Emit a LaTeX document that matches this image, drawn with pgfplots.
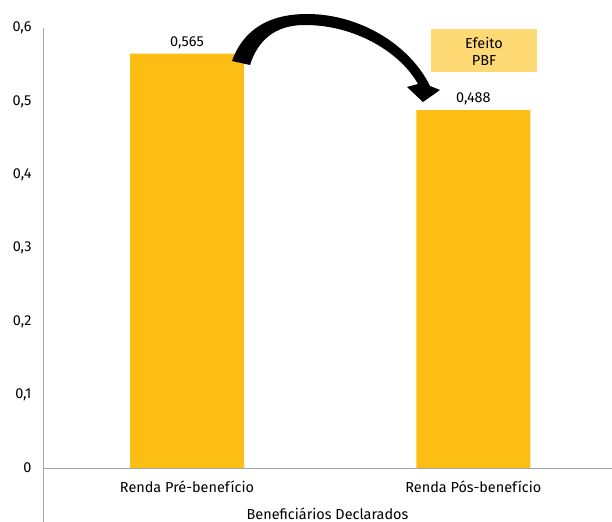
\documentclass[border=0pt]{standalone}
\usepackage{fontspec}
\setmainfont{Fira Sans}
\usepackage{pgfplots}
\pgfplotsset{compat=1.18}
\definecolor{barc}{RGB}{252,190,20}
\definecolor{boxc}{RGB}{255,217,115}
\definecolor{axc}{RGB}{165,165,165}
\begin{document}
\begin{tikzpicture}
\path[use as bounding box] (0,0) rectangle (612bp,522bp);
\begin{axis}[
  at={(43bp,54bp)}, anchor=south west,
  scale only axis, width=569bp, height=440bp,
  ymin=0, ymax=0.6, xmin=-0.503, xmax=1.484,
  ytick={0,0.1,0.2,0.3,0.4,0.5,0.6},
  xtick={0,1}, xticklabels={Renda Pré-benefício, Renda Pós-benefício},
  axis x line*=bottom, axis y line*=left,
  axis line style={axc, line width=0.8pt, -},
  major tick length=0,
  tick label style={font=\fontsize{14.5}{17}\selectfont, text=black},
  yticklabel style={xshift=-8bp},
  xticklabel style={yshift=-9bp},
  xlabel={Beneficiários Declarados},
  xlabel style={font=\fontsize{14.5}{17}\selectfont, yshift=-9bp},
  /pgf/number format/.cd, use comma, fixed, precision=3, assume math mode=true, /pgfplots/.cd,
  ybar, bar width=114bp,
  nodes near coords,
  nodes near coords style={font=\fontsize{14.5}{17}\selectfont, text=black, yshift=1.5bp},
  clip=false,
]
\addplot[fill=barc, draw=none] coordinates {(0,0.565) (1,0.488)};
\end{axis}
\draw[axc, line width=0.8pt] (43bp,54bp) -- (43bp,0bp);
\node[fill=boxc, minimum width=106bp, minimum height=43bp, align=center,
      font=\fontsize{14.5}{17}\selectfont, inner sep=0pt] at (484bp,471bp) {Efeito\\PBF};
\begin{scope}[x=1bp, y=-1bp, yshift=522bp]
\fill[black] (232,61)
  .. controls (245,25) and (275,14) .. (307,14)
  .. controls (360,14) and (410,45) .. (430,86)
  -- (440,90) -- (423,102) -- (407,87) -- (418,84)
  .. controls (400,52) and (355,25) .. (305,25)
  .. controls (275,25) and (258,40) .. (250,65)
  -- cycle;
\end{scope}
\end{tikzpicture}
\end{document}
